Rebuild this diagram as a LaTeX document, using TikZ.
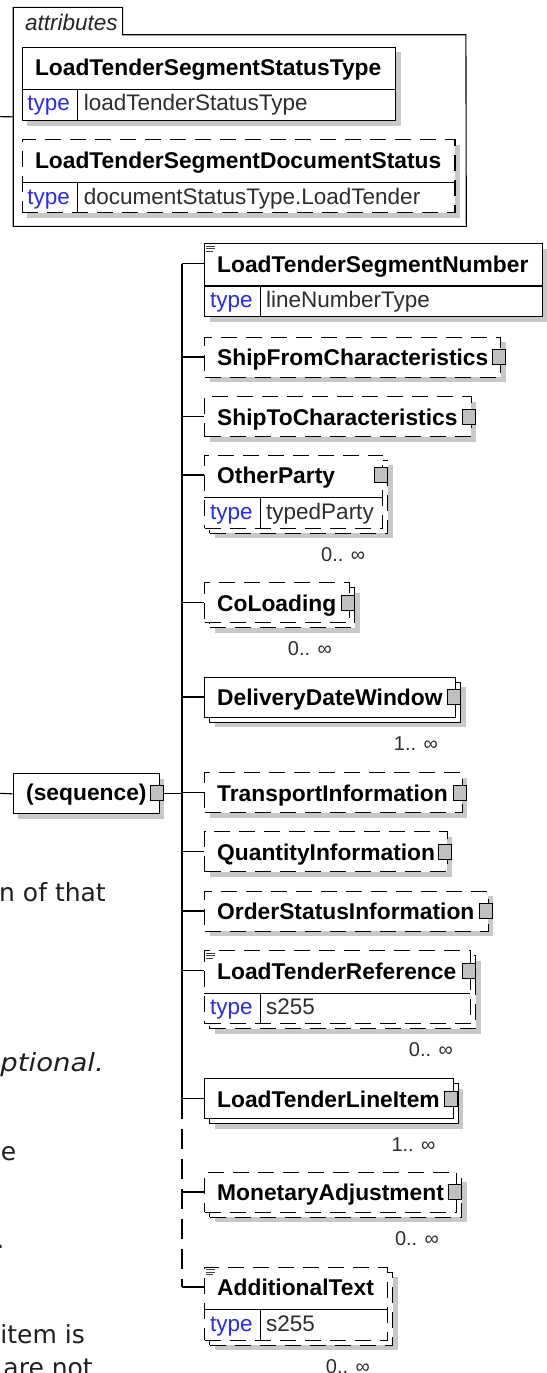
\documentclass[tikz,border=0pt]{standalone}
\usepackage{fontspec}
\setmainfont{Liberation Sans}
\newfontfamily\pagefont{DejaVu Sans}
\usetikzlibrary{shadows}
\definecolor{typeblue}{RGB}{40,40,255}
\definecolor{valgray}{RGB}{45,45,45}
\definecolor{shadecol}{RGB}{200,200,200}
\definecolor{iconfill}{RGB}{192,192,192}
\tikzset{
  ln/.style={line width=1.1pt, draw=black},
  box/.style={draw=black, line width=1.1pt, fill=white, rectangle, inner sep=0pt, anchor=north west},
  shbox/.style={box, drop shadow={shadow xshift=5pt, shadow yshift=-5pt, fill=shadecol, opacity=1}},
  grp/.style={rectangle, inner sep=0pt, anchor=north west},
  opt/.style={dash pattern=on 16pt off 9pt},
  trunkdash/.style={dash pattern=on 20pt off 10pt},
  nm/.style={font=\fontsize{22.8}{27}\selectfont\bfseries, anchor=base west, inner sep=0pt},
  att/.style={font=\fontsize{22.5}{27}\selectfont\itshape, text=black!85, anchor=base west, inner sep=0pt},
  tp/.style={font=\fontsize{22.5}{27}\selectfont, text=typeblue, anchor=base west, inner sep=0pt},
  tv/.style={font=\fontsize{22.5}{27}\selectfont, text=valgray, anchor=base west, inner sep=0pt},
  occ/.style={font=\fontsize{20}{24}\selectfont, text=valgray, anchor=base east, inner sep=0pt},
  icon/.style={draw=black, line width=1pt, fill=iconfill, rectangle, inner sep=0pt, minimum width=13pt, minimum height=15pt},
  docl/.style={line width=0.8pt, draw=black!75},
  pg/.style={font=\pagefont\fontsize{25}{30}\selectfont, text=black!88, anchor=base east, inner sep=0pt},
}
% single-row element box: name, tick y, right x, extra style
\newcommand{\elsingle}[4]{%
  \node[shbox,#4,minimum width={#3-204},minimum height=40] (#1) at (204,{#2-20.5}) {};}
% stacked (repeating) element box: name, tick y, right x, extra style, height
\newcommand{\elmulti}[5]{%
  \node[shbox,#4,minimum width={#3-204},minimum height=#5] (#1b) at (209,{#2-15.5}) {};
  \node[box,#4,minimum width={#3-204},minimum height=#5] (#1) at (204,{#2-20.5}) {};}
\newcommand{\elname}[3]{\node[nm] (#1n) at (217,{#2+8.5}) {#3};}
\newcommand{\elicon}[3]{\node[icon] (#1i) at ({#3-1.5},#2) {};}
\newcommand{\eltick}[2]{\coordinate (j#1) at (182,#2); \draw[ln] (j#1) -- (j#1 -| #1.west);}
\newcommand{\eltype}[4]{%
  \draw[ln] (204,{#2+22.5}) -- (#3,{#2+22.5});
  \draw[ln] (260.5,{#2+22.5}) -- (260.5,{#2+52.5});
  \node[tp] (#1ty) at (210,{#2+44}) {type};
  \node[tv] (#1tv) at (266,{#2+44}) {#4};}
\newcommand{\eldoc}[1]{%
  \draw[docl] (206,{#1+3}) -- (215,{#1+3});
  \draw[docl] (206,{#1+5.5}) -- (215,{#1+5.5});
  \draw[docl] (206,{#1+8}) -- (213,{#1+8});}

\begin{document}
\begin{tikzpicture}[x=1pt,y=-1pt]
\useasboundingbox (0,0) rectangle (546,1373);
\fill[white] (0,0) rectangle (546,1373);

% ---------- attributes group
\node[grp, minimum width=452.7pt, minimum height=218.7pt] (agrp) at (13.2,7.3) {};
\draw[ln] (agrp.south west) -- (agrp.north west) -- (122.6,7.3) -- (122.6,34.7) -- (465.9,34.7) -- (agrp.south east) -- cycle;
\node[att] (atxt) at (25,30.7) {attributes};
\coordinate (ain) at (0,116.65);
\draw[ln] (ain) -- (agrp.west);

\node[shbox, minimum width=373.6pt, minimum height=73.3pt] (attA) at (21.6,46.7) {};
\draw[ln] (21.6,89.3) -- (395.2,89.3);
\draw[ln] (77.3,89.3) -- (77.3,120);
\node[nm] (attAn) at (34.8,75.7) {LoadTenderSegmentStatusType};
\node[tp] (attAt) at (27.2,110.8) {type};
\node[tv] (attAv) at (83.6,110.8) {loadTenderStatusType};

\node[shbox, opt, minimum width=432.8pt, minimum height=73pt] (attB) at (21.6,139.3) {};
\draw[ln] (21.6,182.7) -- (454.4,182.7);
\draw[ln] (77.3,182.7) -- (77.3,212.3);
\node[nm] (attBn) at (34.8,168.3) {LoadTenderSegmentDocumentStatus};
\node[tp] (attBt) at (27.2,204.2) {type};
\node[tv] (attBv) at (83.6,204.2) {documentStatusType.LoadTender};

% ---------- sequence
\node[shbox, minimum width=145.8pt, minimum height=40pt] (seq) at (12.7,773.3) {};
\node[nm] (seqn) at (26,800.8) {(sequence)};
\node[icon] (seqi) at (157,793.3) {};
\coordinate (sin) at (0,793.3);
\draw[ln] (sin) -- (seq.west);
\coordinate (sj) at (182,793.3);
\draw[ln] (seqi.east) -- (sj);

% ---------- elements
% LoadTenderSegmentNumber
\node[shbox, minimum width=337.7pt, minimum height=73pt] (ltsn) at (204,243) {};
\eltype{ltsn}{263.5}{541.7}{lineNumberType}
\eldoc{243}
\elname{ltsn}{263.5}{LoadTenderSegmentNumber}
\eltick{ltsn}{263.5}

% ShipFromCharacteristics
\elsingle{shipfrom}{357}{500}{opt}
\elname{shipfrom}{357}{ShipFromCharacteristics}
\elicon{shipfrom}{357}{500}
\eltick{shipfrom}{357}

% ShipToCharacteristics
\elsingle{shipto}{416.5}{470.7}{opt}
\elname{shipto}{416.5}{ShipToCharacteristics}
\elicon{shipto}{416.5}{470.7}
\eltick{shipto}{416.5}

% OtherParty
\elmulti{other}{475}{382.3}{opt}{73}
\eltype{other}{475}{382.3}{typedParty}
\elname{other}{475}{OtherParty}
\elicon{other}{475}{382.3}
\eltick{other}{475}
\node[occ] (otherocc) at (365.3,561) {0.. ∞};

% CoLoading
\elmulti{colo}{602.5}{349}{opt}{40}
\elname{colo}{602.5}{CoLoading}
\elicon{colo}{602.5}{349}
\eltick{colo}{602.5}
\node[occ] (coloocc) at (332,655.5) {0.. ∞};

% DeliveryDateWindow
\elmulti{ddw}{697}{455}{solid}{40}
\elname{ddw}{697}{DeliveryDateWindow}
\elicon{ddw}{697}{455}
\eltick{ddw}{697}
\node[occ] (ddwocc) at (438,750.5) {1.. ∞};

% TransportInformation
\elsingle{trans}{792.5}{461.7}{opt}
\elname{trans}{792.5}{TransportInformation}
\elicon{trans}{792.5}{461.7}
\eltick{trans}{792.5}

% QuantityInformation
\elsingle{qty}{851.5}{446.7}{opt}
\elname{qty}{851.5}{QuantityInformation}
\elicon{qty}{851.5}{446.7}
\eltick{qty}{851.5}

% OrderStatusInformation
\elsingle{ostat}{911}{487.5}{opt}
\elname{ostat}{911}{OrderStatusInformation}
\elicon{ostat}{911}{487.5}
\eltick{ostat}{911}

% LoadTenderReference
\elmulti{ltref}{970.7}{470}{opt}{73}
\eltype{ltref}{970.7}{470}{s255}
\eldoc{950.2}
\elname{ltref}{970.7}{LoadTenderReference}
\elicon{ltref}{970.7}{470}
\eltick{ltref}{970.7}
\node[occ] (ltrefocc) at (453,1056.7) {0.. ∞};

% LoadTenderLineItem
\elmulti{ltline}{1098.5}{452.6}{solid}{40}
\elname{ltline}{1098.5}{LoadTenderLineItem}
\elicon{ltline}{1098.5}{452.6}
\eltick{ltline}{1098.5}
\node[occ] (ltlineocc) at (435.6,1151.5) {1.. ∞};

% MonetaryAdjustment
\elmulti{monadj}{1192}{456.1}{opt}{40}
\elname{monadj}{1192}{MonetaryAdjustment}
\elicon{monadj}{1192}{456.1}
\eltick{monadj}{1192}
\node[occ] (monadjocc) at (439.1,1245) {0.. ∞};

% AdditionalText
\elmulti{addtext}{1287}{387}{opt}{73}
\eltype{addtext}{1287}{387}{s255}
\eldoc{1266.5}
\elname{addtext}{1287}{AdditionalText}
\eltick{addtext}{1287}
\node[occ] (addtextocc) at (370,1373.5) {0.. ∞};

% trunk of the sequence
\draw[ln] (jltsn) -- (jltline);
\draw[ln, trunkdash] (jltline) -- (jaddtext);

% ---------- fragments of the surrounding page text
\node[pg] (p1) at (106,901.5) {n of that};
\node[pg, font=\pagefont\itshape\fontsize{25}{30}\selectfont] (p2) at (104,1071.7) {\scalebox{1.1}[1]{ptional.}};
\node[pg] (p3) at (16.5,1160) {e};
\node[pg] (p4) at (4.5,1248) {.};
\node[pg] (p5) at (85,1343.3) {item is};
\node[pg] (p6) at (93,1376) {are not};
\end{tikzpicture}
\end{document}
